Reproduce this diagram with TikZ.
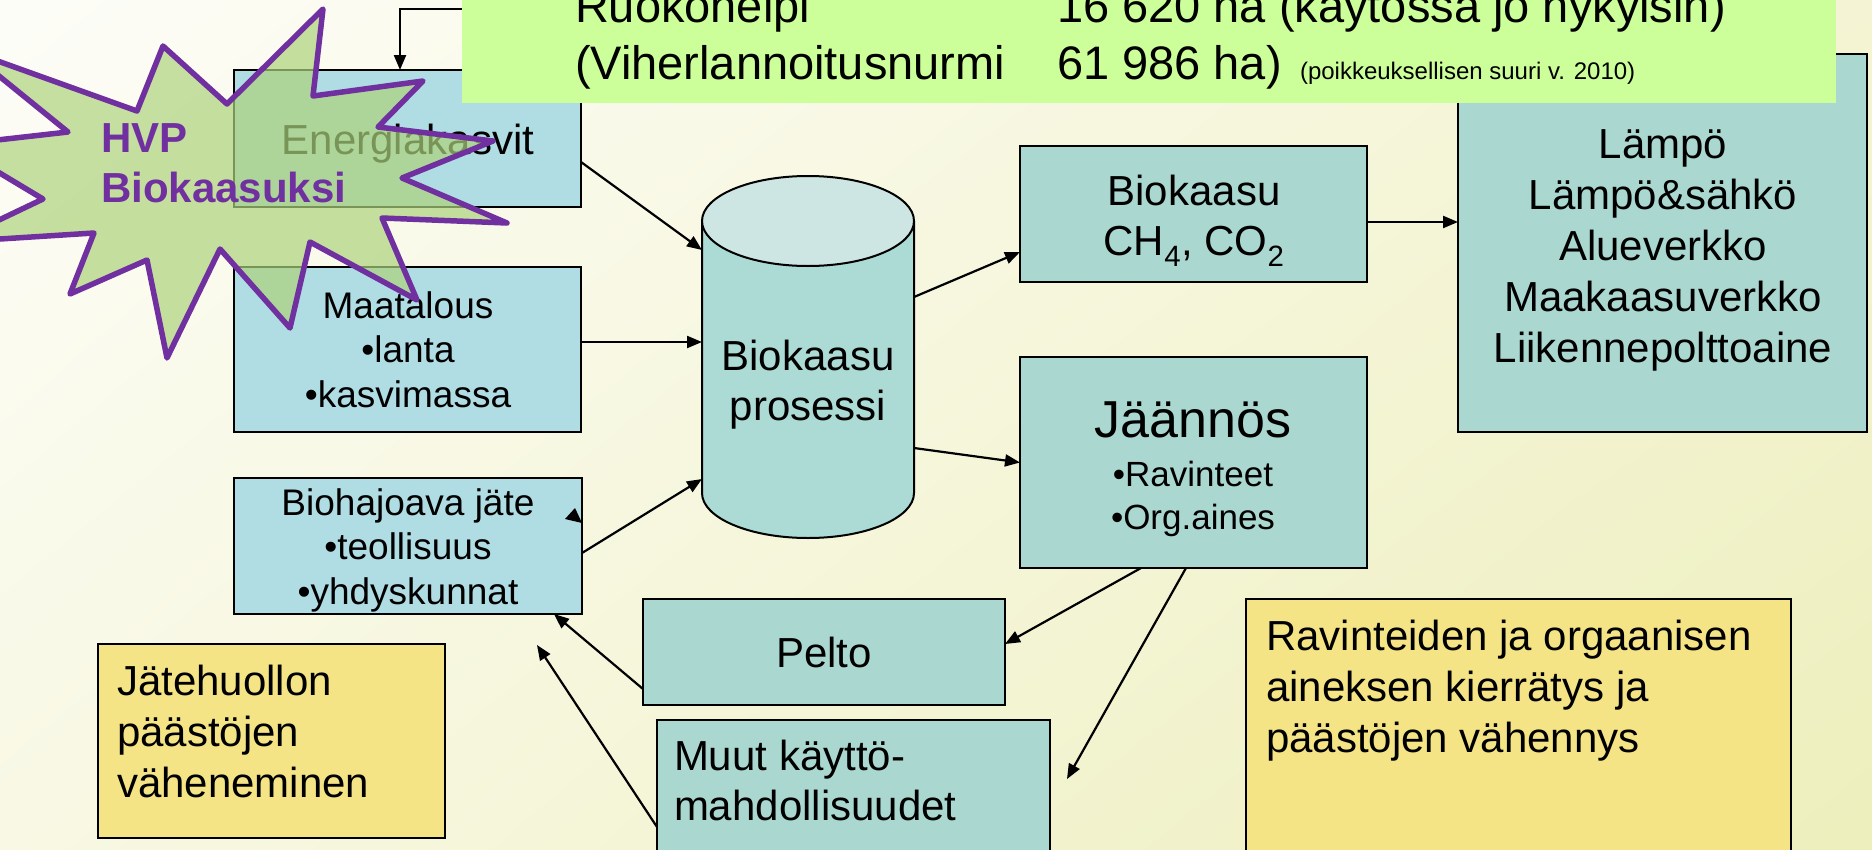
\documentclass[tikz,border=0pt]{standalone}
\usepackage{fontspec}
\setmainfont{Liberation Sans}
\usetikzlibrary{arrows.meta,calc,shadings}
\definecolor{bgTL}{RGB}{253,253,248}
\definecolor{bgTR}{RGB}{244,244,212}
\definecolor{bgBL}{RGB}{248,248,228}
\definecolor{bgBR}{RGB}{237,239,188}
\definecolor{boxblue}{RGB}{176,220,227}
\definecolor{boxteal}{RGB}{170,216,209}
\definecolor{cylbody}{RGB}{172,218,213}
\definecolor{cyltop}{RGB}{205,230,228}
\definecolor{boxyel}{RGB}{244,228,134}
\definecolor{greenbox}{RGB}{204,255,153}
\definecolor{starfill}{RGB}{173,211,124}
\definecolor{hvppurple}{RGB}{112,48,160}
\newcommand{\fsz}[2]{\fontsize{#1}{#2}\selectfont}
\begin{document}
\begin{tikzpicture}[x=1pt,y=-1pt,
  box/.style={draw=black, line width=2.4pt, inner sep=0pt, outer sep=0pt, rectangle},
  bluebox/.style={box, fill=boxblue},
  tealbox/.style={box, fill=boxteal},
  yelbox/.style={box, fill=boxyel, line width=2pt},
  txt/.style={inner sep=0pt, outer sep=0pt, text=black},
  conn/.style={line width=2.2pt, -{Triangle[length=15pt,width=12pt]}},
  burst/.style={draw=hvppurple, line width=5.5pt, line join=round, fill=starfill, fill opacity=0.7}
]
\useasboundingbox (0,0) rectangle (1872,849);
\clip (0,0) rectangle (1872,849);
\shade[upper left=bgTL, upper right=bgTR, lower left=bgBL, lower right=bgBR] (0,0) rectangle (1872,849);

% free coordinates
\coordinate (topsrc) at (700,9);
\coordinate (freeA) at (1067,779);
\coordinate (freeB) at (537,645);

% boxes
\node[bluebox, minimum width=347pt, minimum height=137pt] (energ) at (407.5,138.5) {};
\node[bluebox, minimum width=347pt, minimum height=165pt] (maat) at (407.5,349.5) {};
\node[bluebox, minimum width=348pt, minimum height=136pt] (bioh) at (408,546) {};
\node[tealbox, minimum width=347pt, minimum height=136pt] (biok) at (1193.5,214) {};
\node[tealbox, minimum width=347pt, minimum height=211pt] (jaan) at (1193.5,462.5) {};
\node[tealbox, minimum width=409pt, minimum height=378pt] (lampo) at (1662.5,243) {};
\node[tealbox, minimum width=362pt, minimum height=106pt] (pelto) at (824,652) {};
\node[tealbox, minimum width=393pt, minimum height=150pt] (muut) at (853.5,795) {};
\node[yelbox, minimum width=347pt, minimum height=194pt] (jate) at (271.5,741) {};
\node[yelbox, minimum width=545pt, minimum height=271pt] (rav) at (1518.5,734.5) {};

% cylinder
\node[inner sep=0pt, outer sep=0pt, minimum width=212pt, minimum height=362pt] (cyl) at (808,357) {};
\fill[cylbody] (702,221) rectangle (914,493);
\fill[cylbody] (808,493) ellipse [x radius=106pt, y radius=45pt];
\draw[line width=2pt] (702,221) -- (702,493) arc[start angle=180, end angle=360, x radius=106pt, y radius=45pt] -- (914,221);
\draw[line width=2pt, fill=cyltop] (808,221) ellipse [x radius=106pt, y radius=45pt];

% connectors
\draw[conn] (topsrc) -| ([xshift=-7.5pt]energ.north);
\draw[conn] ([yshift=-23.5pt]energ.east) -- ([yshift=107pt]cyl.west);
\draw[conn] ([yshift=7.5pt]maat.east) -- ([yshift=15pt]cyl.west);
\draw[conn] ([yshift=-7pt]bioh.east) -- ([yshift=-122pt]cyl.west);
\draw[conn] ([yshift=60pt]cyl.east) -- ([yshift=-38pt]biok.west);
\draw[conn] ([yshift=-91pt]cyl.east) -- (jaan.west);
\draw[conn] ([yshift=-8pt]biok.east) -- ([yshift=21pt]lampo.west);
\draw[conn] ([xshift=-52.5pt]jaan.south) -- ([yshift=8pt]pelto.east);
\draw[conn] ([xshift=-7.5pt]jaan.south) -- (freeA);
\draw[conn] ([yshift=-37pt]pelto.west) -- ([xshift=146pt]bioh.south);
\draw[conn] ([yshift=-32pt]muut.west) -- (freeB);
\fill (575,508) -- (565,519) -- (582,523) -- cycle;

% texts (base anchor = baseline of the last line)
\node[txt, anchor=base, font=\fsz{42}{50}] (energT) at (408,154) {Energiakasvit};
\node[txt, anchor=base, align=center, font=\fsz{37}{44.5}] (maatT) at (408,407) {Maatalous\\•lanta\\•kasvimassa};
\node[txt, anchor=base, align=center, font=\fsz{37}{44.5}] (biohT) at (408,604) {Biohajoava jäte\\•teollisuus\\•yhdyskunnat};
\node[txt, anchor=base, align=center, font=\fsz{42}{50}] (cylT) at (808,420) {Biokaasu\\prosessi};
\node[txt, anchor=base, align=center, font=\fsz{42}{50}] (biokT) at (1194,255) {Biokaasu\\CH\textsubscript{4}, CO\textsubscript{2}};
\node[txt, anchor=base, font=\fsz{52}{62}] (jaanT) at (1193,437) {Jäännös};
\node[txt, anchor=base, align=center, font=\fsz{35}{43}] (jaanB) at (1193,529) {•Ravinteet\\•Org.aines};
\node[txt, anchor=base, align=center, font=\fsz{42}{51}] (lampoT) at (1663,362) {Lämpö\\Lämpö\&sähkö\\Alueverkko\\Maakaasuverkko\\Liikennepolttoaine};
\node[txt, anchor=base, font=\fsz{42}{50}] (peltoT) at (824,667) {Pelto};
\node[txt, anchor=base west, align=left, font=\fsz{42}{50}] (muutT) at (674,820) {Muut käyttö-\\mahdollisuudet};
\node[txt, anchor=base west, align=left, font=\fsz{42}{51}] (jateT) at (117,797) {Jätehuollon\\päästöjen\\väheneminen};
\node[txt, anchor=base west, align=left, font=\fsz{42}{51}] (ravT) at (1266,752) {Ravinteiden ja orgaanisen\\aineksen kierrätys ja\\päästöjen vähennys};

% burst
\draw[burst] (323,9) -- (313,96) -- (423,81) -- (378,127) -- (493,141) -- (402,178) -- (507,223) -- (382,218) -- (417,300) -- (310,242) -- (290,328) -- (220,249) -- (167,358) -- (147,260) -- (70,294) -- (94,233) -- (-47,242) -- (43,199) -- (-47,145) -- (68,132) -- (-33,50) -- (137,111) -- (163,46) -- (227,104) -- cycle;
\node[txt, anchor=base west, align=left, font=\fsz{42}{50}\bfseries, text=hvppurple] (hvp) at (101,202) {HVP\\Biokaasuksi};

% green info box
\node[inner sep=0pt, outer sep=0pt, fill=greenbox, minimum width=1374pt, minimum height=153pt] (green) at (1149,26.5) {};
\node[txt, anchor=base west, font=\fsz{47}{57}] (g1a) at (575,22) {Ruokohelpi};
\node[txt, anchor=base west, font=\fsz{47}{57}] (g1b) at (1057,22) {16 620 ha (käytössä jo nykyisin)};
\node[txt, anchor=base west, font=\fsz{47}{57}] (g2a) at (575,79) {(Viherlannoitusnurmi};
\node[txt, anchor=base west, font=\fsz{47}{57}] (g2b) at (1057,79) {61 986 ha)};
\node[txt, anchor=base west, font=\fsz{24}{29}] (g2c) at (1300,79) {(poikkeuksellisen suuri v. 2010)};
\end{tikzpicture}
\end{document}
